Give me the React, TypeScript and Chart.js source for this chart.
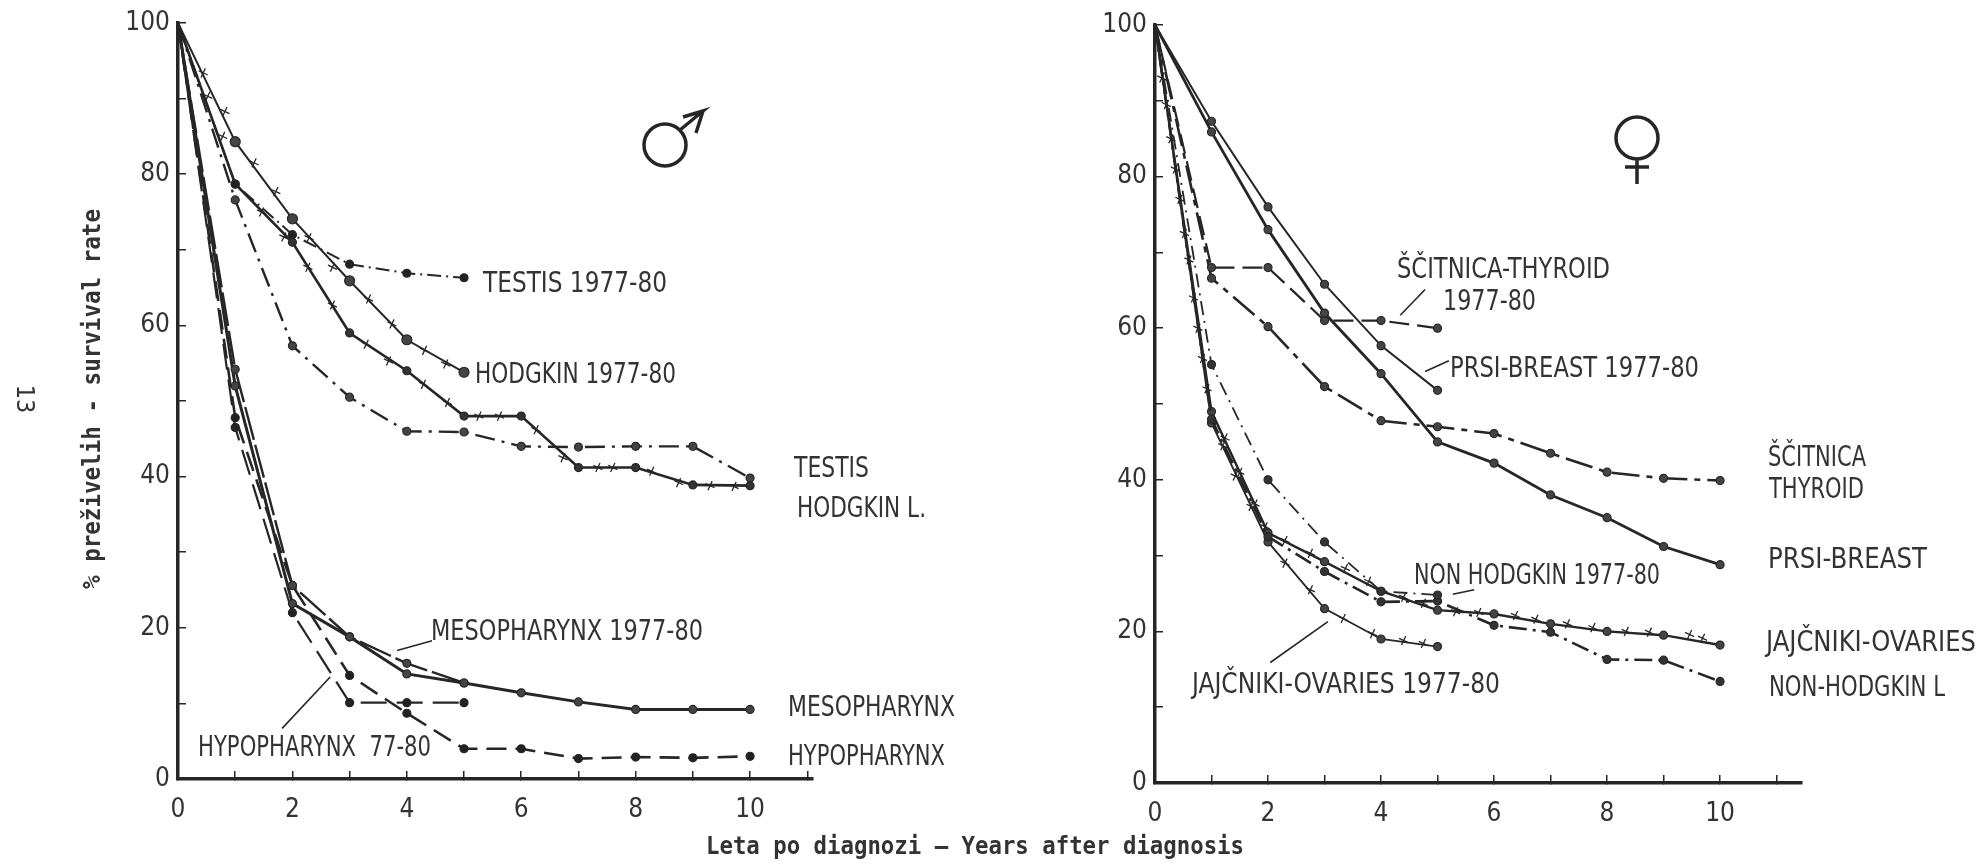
import React, { useEffect, useRef } from "react";
import { Chart, registerables } from "chart.js";

Chart.register(...registerables);

const INK = "#262626";
const NARROW = '"DejaVu Sans Condensed", "Liberation Sans", sans-serif';
const years = [0, 1, 2, 3, 4, 5, 6, 7, 8, 9, 10];

// Men
const testis7780 = [100, 78.7, 72, 68.1, 66.9, 66.3];
const hodgkin7780 = [100, 84.3, 74.1, 65.9, 58.1, 53.8];
const testis = [100, 76.6, 57.3, 50.5, 46, 45.9, 44, 43.9, 44, 44, 39.8];
const hodgkinL = [100, 78.7, 71, 59, 54, 48, 48, 41.2, 41.2, 38.9, 38.8];
const meso7780 = [100, 54.2, 25.6, 18.8, 15.3, 12.7];
const meso = [100, 52, 23.2, 18.8, 13.9, 12.7, 11.4, 10.2, 9.2, 9.2, 9.2];
const hypo = [100, 47.8, 25.6, 13.7, 8.7, 4, 4, 2.7, 2.9, 2.8, 3];
const hypo7780 = [100, 46.5, 22, 10.1, 10.1, 10.1];

const hodgkin7780Hatch: [number, number][] = [[0.44, 93.4], [0.82, 88.3], [1.33, 81.5], [1.71, 77.7], [2.29, 71.6], [2.7, 67.7], [3.33, 63.5], [3.74, 60.2], [4.31, 56.7], [4.68, 54.9]];
const hodgkinLHatch: [number, number][] = [[0.52, 90.3], [0.78, 85], [1.46, 75], [1.85, 71.7], [2.27, 67.7], [2.7, 62.7], [3.29, 57.5], [3.68, 55.3], [4.29, 52.2], [4.71, 49.8], [5.26, 48], [5.62, 48], [6.26, 46.2], [6.73, 42.5], [7.34, 41.2], [7.6, 41.2], [8.28, 40.7], [8.75, 39.2], [9.3, 38.8], [9.72, 38.7]];

// Women
const breast7780 = [100, 87.3, 76, 65.8, 57.7, 51.8];
const breast = [100, 85.9, 73, 62, 54, 45, 42.2, 38, 35, 31.2, 28.8];
const thyroid7780 = [100, 68, 68, 61, 61, 60];
const thyroid = [100, 66.6, 60.2, 52.3, 47.8, 47, 46.1, 43.5, 41, 40.2, 39.9];
const nhl7780 = [100, 55.2, 40, 31.8, 25.3, 24.8];
const nhl = [100, 48, 32.5, 27.9, 23.9, 24, 20.8, 19.9, 16.3, 16.2, 13.4];
const ovaries = [100, 49, 33, 29.2, 25.3, 22.8, 22.3, 21, 20, 19.5, 18.2];
const ovaries7780 = [100, 47.5, 31.8, 23, 19, 18];

const ovariesHatch: [number, number][] = [[0.12, 93], [0.28, 85], [0.44, 77], [0.6, 69], [0.76, 60], [0.92, 52], [1.24, 45.5], [1.5, 41], [1.77, 36.8], [1.95, 33.8], [2.3, 32], [2.75, 30.3], [3.37, 28.3], [3.78, 26.6], [4.4, 24.5], [4.75, 23.7], [5.32, 22.6], [5.73, 22.5], [6.38, 22.1], [6.74, 21.6], [7.3, 21], [7.75, 20.5], [8.34, 20], [8.75, 19.9], [9.46, 19.6], [9.69, 19.1]];
const ovaries7780Hatch: [number, number][] = [[0.2, 89.5], [0.36, 81], [0.52, 72.5], [0.68, 64], [0.84, 56], [1.2, 44.5], [1.42, 40.5], [1.7, 36.5], [2.3, 29], [2.75, 25.5], [3.33, 21.7], [3.85, 19.7], [4.4, 18.8], [4.75, 18.4]];

// Leader lines, in axis units
const leadersMen: [number, number][][] = [
  [[3.83, 17], [4.44, 18.3]],
  [[1.82, 6.7], [2.66, 13.5]],
];
const leadersWomen: [number, number][][] = [
  [[4.34, 61.7], [4.78, 65.1]],
  [[4.78, 54.3], [5.2, 55.7]],
  [[5.27, 24.9], [5.65, 25.5]],
  [[2.04, 15.9], [3.06, 21.3]],
];

type Label = { t: string; x: number; y: number; w: number };
const labelsMen: Label[] = [
  { t: "TESTIS 1977-80", x: 483, y: 284, w: 184 },
  { t: "HODGKIN 1977-80", x: 475, y: 375, w: 201 },
  { t: "TESTIS", x: 794, y: 469, w: 75 },
  { t: "HODGKIN L.", x: 797, y: 509, w: 129 },
  { t: "MESOPHARYNX 1977-80", x: 431, y: 632, w: 272 },
  { t: "MESOPHARYNX", x: 788, y: 708, w: 167 },
  { t: "HYPOPHARYNX", x: 788, y: 757, w: 157 },
  { t: "HYPOPHARYNX  77-80", x: 198, y: 748, w: 233 },
];
const labelsWomen: Label[] = [
  { t: "ŠČITNICA-THYROID", x: 1397, y: 270, w: 213 },
  { t: "1977-80", x: 1443, y: 302, w: 93 },
  { t: "PRSI-BREAST 1977-80", x: 1450, y: 369, w: 249 },
  { t: "ŠČITNICA", x: 1768, y: 458, w: 98 },
  { t: "THYROID", x: 1769, y: 490, w: 95 },
  { t: "PRSI-BREAST", x: 1768, y: 560, w: 159 },
  { t: "JAJČNIKI-OVARIES", x: 1766, y: 643, w: 210 },
  { t: "NON-HODGKIN L", x: 1769, y: 688, w: 176 },
  { t: "NON HODGKIN 1977-80", x: 1414, y: 576, w: 246 },
  { t: "JAJČNIKI-OVARIES 1977-80", x: 1192, y: 685, w: 308 },
];

const fitText = (ctx: CanvasRenderingContext2D, t: string, x: number, y: number, w: number) => {
  (ctx as any).letterSpacing = "0px";
  const natural = ctx.measureText(t).width;
  if (natural < w) {
    (ctx as any).letterSpacing = `${(w - natural) / Math.max(1, t.length - 1)}px`;
    ctx.fillText(t, x, y);
    (ctx as any).letterSpacing = "0px";
  } else {
    ctx.fillText(t, x, y, w);
  }
};

const textPlugin = (labels: Label[], extra?: (ctx: CanvasRenderingContext2D) => void) => ({
  id: "chartText",
  afterDraw(chart: any) {
    const ctx: CanvasRenderingContext2D = chart.ctx;
    ctx.save();
    ctx.fillStyle = "#333";
    ctx.textBaseline = "middle";
    ctx.textAlign = "left";
    ctx.font = `29px ${NARROW}`;
    labels.forEach((l) => fitText(ctx, l.t, l.x, l.y, l.w));
    if (extra) extra(ctx);
    ctx.restore();
  },
});

const strokePath = (ctx: CanvasRenderingContext2D, draw: () => void) => {
  ctx.save();
  ctx.strokeStyle = INK;
  ctx.lineWidth = 3.5;
  ctx.beginPath();
  draw();
  ctx.stroke();
  ctx.restore();
};

const line = (data: number[], width: number, dash: number[], fill = "#444", r = 4) => ({
  data: data.map((y, i) => ({ x: years[i], y })),
  borderColor: INK,
  borderWidth: width,
  borderDash: dash,
  pointRadius: data.map((_, i) => (i === 0 ? 0 : r)),
  pointBackgroundColor: fill,
  pointBorderColor: INK,
  pointBorderWidth: 1.2,
  tension: 0,
});

const hatch = (pts: [number, number][]) => ({
  data: pts.map(([x, y]) => ({ x, y })),
  showLine: false,
  pointStyle: "cross",
  pointRadius: 5,
  pointRotation: 25,
  pointBorderColor: INK,
  pointBorderWidth: 1.3,
});

const leader = (pts: [number, number][]) => ({
  data: pts.map(([x, y]) => ({ x, y })),
  borderColor: INK,
  borderWidth: 1.6,
  pointRadius: 0,
});

const makeOptions = (area: { left: number; right: number; top: number; bottom: number }, xMax: number) => ({
  responsive: false,
  animation: false as const,
  layout: { padding: { left: 0, top: area.top, right: 1986 - area.right, bottom: 0 } },
  plugins: { legend: { display: false }, tooltip: { enabled: false }, title: { display: false } },
  scales: {
    x: {
      type: "linear" as const,
      min: 0,
      max: xMax,
      afterFit: (s: any) => { s.height = 867 - area.bottom; s.paddingLeft = 0; s.paddingRight = 0; },
      border: { display: true, color: INK, width: 3.5 },
      grid: { drawOnChartArea: false, drawTicks: true, tickLength: -8, color: INK, lineWidth: 1.5 },
      ticks: {
        stepSize: 1,
        includeBounds: false,
        autoSkip: false,
        maxRotation: 0,
        padding: 24,
        color: "#333",
        font: { family: NARROW, size: 26 },
        callback: (v: any) => (v % 2 === 0 && v <= 10 ? String(v) : ""),
      },
    },
    y: {
      type: "linear" as const,
      min: 0,
      max: 100,
      afterFit: (s: any) => { s.width = area.left; s.paddingTop = 0; s.paddingBottom = 0; },
      border: { display: true, color: INK, width: 3.5 },
      grid: { drawOnChartArea: false, drawTicks: true, tickLength: -8, color: INK, lineWidth: 1.5 },
      ticks: {
        stepSize: 10,
        autoSkip: false,
        padding: 16,
        color: "#333",
        font: { family: NARROW, size: 26 },
        callback: (v: any) => (v % 20 === 0 ? String(v) : ""),
      },
    },
  },
});

export default function App() {
  const leftRef = useRef<HTMLCanvasElement>(null);
  const rightRef = useRef<HTMLCanvasElement>(null);

  useEffect(() => {
    document.body.style.margin = "0";
    document.body.style.background = "#fff";

    const men = new Chart(leftRef.current!, {
      type: "line",
      data: {
        datasets: [
          line(testis7780, 2, [14, 5, 2, 5], "#222"),
          line(hodgkin7780, 2, [], "#444", 5),
          line(testis, 2.4, [20, 7, 3, 7], "#444"),
          line(hodgkinL, 2.6, [], "#333"),
          line(meso7780, 2.4, [34, 5], "#444"),
          line(meso, 3, [], "#444"),
          line(hypo, 2.6, [20, 9], "#222"),
          line(hypo7780, 2.2, [26, 10], "#222"),
          hatch(hodgkin7780Hatch),
          hatch(hodgkinLHatch),
          ...leadersMen.map(leader),
        ] as any,
      },
      options: makeOptions({ left: 178, right: 813, top: 23, bottom: 779 }, 11.1) as any,
      plugins: [
        textPlugin(labelsMen, (ctx) => {
          ctx.save();
          ctx.translate(23, 399);
          ctx.rotate(Math.PI / 2);
          ctx.textAlign = "center";
          ctx.font = `25px ${NARROW}`;
          ctx.fillText("13", 0, 0);
          ctx.restore();

          ctx.save();
          ctx.translate(93, 589);
          ctx.rotate(-Math.PI / 2);
          ctx.font = 'bold 25px "DejaVu Sans Mono"';
          fitText(ctx, "% preživelih - survival rate", 0, 0, 380);
          ctx.restore();

          ctx.font = 'bold 25px "DejaVu Sans Mono"';
          fitText(ctx, "Leta po diagnozi — Years after diagnosis", 706, 847, 538);

          // Male sign
          strokePath(ctx, () => {
            ctx.arc(665, 145, 21, 0, Math.PI * 2);
            ctx.moveTo(680, 130);
            ctx.lineTo(703, 111);
            ctx.lineTo(683, 117);
            ctx.moveTo(703, 111);
            ctx.lineTo(696, 133);
          });
        }),
      ],
    });

    const women = new Chart(rightRef.current!, {
      type: "line",
      data: {
        datasets: [
          line(breast7780, 2, [], "#444"),
          line(breast, 2.8, [], "#444"),
          line(thyroid7780, 2.2, [20, 8], "#444"),
          line(thyroid, 2.6, [28, 7, 6, 7], "#444"),
          line(nhl7780, 1.8, [14, 6, 2, 6], "#333"),
          line(nhl, 2.6, [18, 6, 3, 6], "#333"),
          line(ovaries, 2.4, [], "#444"),
          line(ovaries7780, 1.8, [], "#444"),
          hatch(ovariesHatch),
          hatch(ovaries7780Hatch),
          ...leadersWomen.map(leader),
        ] as any,
      },
      options: makeOptions({ left: 1155, right: 1802, top: 25, bottom: 783 }, 11.45) as any,
      plugins: [
        textPlugin(labelsWomen, (ctx) => {
          // Female sign
          strokePath(ctx, () => {
            ctx.arc(1637, 138, 21, 0, Math.PI * 2);
            ctx.moveTo(1637, 159);
            ctx.lineTo(1637, 184);
            ctx.moveTo(1625, 167);
            ctx.lineTo(1649, 167);
          });
        }),
      ],
    });

    return () => {
      men.destroy();
      women.destroy();
    };
  }, []);

  const style: React.CSSProperties = { position: "absolute", left: 0, top: 0 };
  return (
    <div style={{ position: "relative", width: 1986, height: 867, overflow: "hidden", background: "#fff" }}>
      <canvas ref={leftRef} width={1986} height={867} style={style} />
      <canvas ref={rightRef} width={1986} height={867} style={style} />
    </div>
  );
}
